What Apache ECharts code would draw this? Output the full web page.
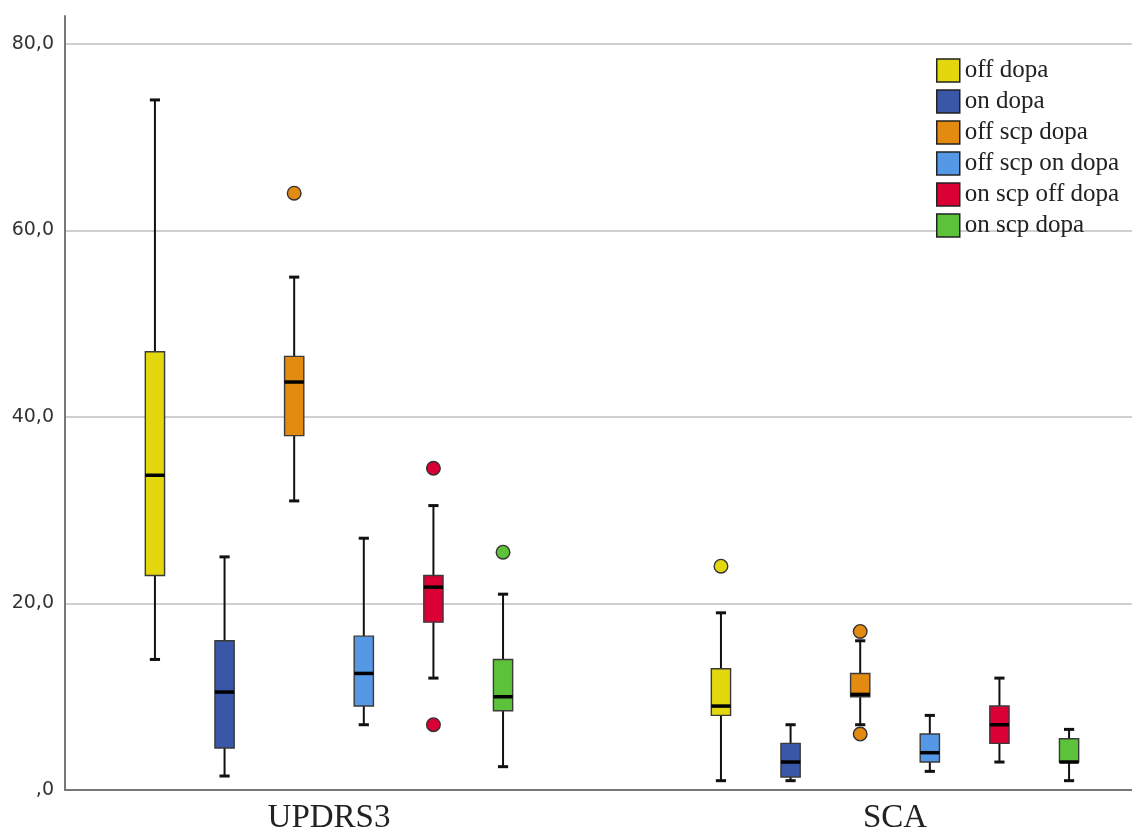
<!DOCTYPE html>
<html>
<head>
<meta charset="utf-8">
<script src="https://cdn.jsdelivr.net/npm/echarts@6/dist/echarts.min.js"></script>
<style>
html,body{margin:0;padding:0;background:#fff;}
#chart{width:1132px;height:834px;}
</style>
</head>
<body>
<div id="chart"></div>
<script>
// ---- Data ----
const categories = ['UPDRS3', 'SCA'];
const seriesNames = ['off dopa', 'on dopa', 'off scp dopa', 'off scp on dopa', 'on scp off dopa', 'on scp dopa'];
const seriesColors = ['#E3D80E', '#3A57A7', '#E38A10', '#5599E6', '#DA0035', '#5CC23A'];

// [min, Q1, median, Q3, max] for UPDRS3, SCA
const offDopa      = [[14, 23, 33.75, 47, 74],     [1, 8, 9, 13, 19]];
const onDopa       = [[1.5, 4.5, 10.5, 16, 25],    [1, 1.4, 3, 5, 7]];
const offScpDopa   = [[31, 38, 43.75, 46.5, 55],   [7, 10, 10.25, 12.5, 16]];
const offScpOnDopa = [[7, 9, 12.5, 16.5, 27],      [2, 3, 4, 6, 8]];
const onScpOffDopa = [[12, 18, 21.75, 23, 30.5],   [3, 5, 7, 9, 12]];
const onScpDopa    = [[2.5, 8.5, 10, 14, 21],      [1, 3, 3, 5.5, 6.5]];

// outliers: [category index, value]
const offDopaOut      = [[1, 24]];
const onDopaOut       = [];
const offScpDopaOut   = [[0, 64], [1, 17], [1, 6]];
const offScpOnDopaOut = [];
const onScpOffDopaOut = [[0, 34.5], [0, 7]];
const onScpDopaOut    = [[0, 25.5]];

const yTicks = [0, 20, 40, 60, 80];

const boxStats = [offDopa, onDopa, offScpDopa, offScpOnDopa, onScpOffDopa, onScpDopa];
const outliers = [offDopaOut, onDopaOut, offScpDopaOut, offScpOnDopaOut, onScpOffDopaOut, onScpDopaOut];

// ---- Layout helpers ----
const groupStep = 0.123;   // offset between boxes inside a group (axis units)
const boxW = 0.034;        // box width (axis units)
const capW = 0.018;        // whisker cap width (axis units)

function offsetFor(k) { return (k - 2.5) * groupStep; }

function makeBoxRender(k) {
  return function (params, api) {
    const xc = api.value(0) + offsetFor(k);
    const pMin = api.coord([xc, api.value(1)]);
    const pQ1 = api.coord([xc, api.value(2)]);
    const pMed = api.coord([xc, api.value(3)]);
    const pQ3 = api.coord([xc, api.value(4)]);
    const pMax = api.coord([xc, api.value(5)]);
    const hw = api.size([boxW, 0])[0] / 2;
    const cw = api.size([capW, 0])[0] / 2;
    const x = pMed[0];
    const lineStyle = { stroke: '#111', lineWidth: 2 };
    return {
      type: 'group',
      children: [
        { type: 'line', shape: { x1: x, y1: pQ3[1], x2: x, y2: pMax[1] }, style: lineStyle },
        { type: 'line', shape: { x1: x, y1: pQ1[1], x2: x, y2: pMin[1] }, style: lineStyle },
        { type: 'line', shape: { x1: x - cw, y1: pMax[1], x2: x + cw, y2: pMax[1] }, style: { stroke: '#111', lineWidth: 3 } },
        { type: 'line', shape: { x1: x - cw, y1: pMin[1], x2: x + cw, y2: pMin[1] }, style: { stroke: '#111', lineWidth: 3 } },
        { type: 'rect', shape: { x: x - hw, y: pQ3[1], width: hw * 2, height: pQ1[1] - pQ3[1] },
          style: { fill: seriesColors[k], stroke: '#3a3a3a', lineWidth: 1.4 } },
        { type: 'line', shape: { x1: x - hw, y1: pMed[1], x2: x + hw, y2: pMed[1] }, style: { stroke: '#000', lineWidth: 3.5 } }
      ]
    };
  };
}

function makeOutlierRender(k) {
  return function (params, api) {
    const p = api.coord([api.value(0) + offsetFor(k), api.value(1)]);
    return {
      type: 'circle',
      shape: { cx: p[0], cy: p[1], r: 6.8 },
      style: { fill: seriesColors[k], stroke: '#333', lineWidth: 1.4 }
    };
  };
}

const series = [];
seriesNames.forEach(function (name, k) {
  series.push({
    name: name,
    type: 'custom',
    clip: false,
    itemStyle: { color: seriesColors[k], borderColor: '#222', borderWidth: 1.5 },
    encode: { x: 0, y: [1, 2, 3, 4, 5] },
    renderItem: makeBoxRender(k),
    data: boxStats[k].map(function (s, ci) { return [ci].concat(s); }),
    z: 3
  });
});
seriesNames.forEach(function (name, k) {
  series.push({
    name: name,
    type: 'custom',
    clip: false,
    itemStyle: { color: seriesColors[k] },
    encode: { x: 0, y: 1 },
    renderItem: makeOutlierRender(k),
    data: outliers[k],
    z: 4
  });
});

const chart = echarts.init(document.getElementById('chart'), null, { renderer: 'canvas' });
chart.setOption({
  animation: false,
  backgroundColor: '#fff',
  grid: { left: 65, right: 0, top: 16, bottom: 44, containLabel: false, outerBoundsMode: 'none' },
  legend: {
    data: seriesNames,
    orient: 'vertical',
    left: 931,
    top: 53,
    icon: 'rect',
    itemWidth: 23,
    itemHeight: 23,
    itemGap: 6,
    itemStyle: { borderColor: '#222', borderWidth: 1.5 },
    textStyle: { fontFamily: 'Liberation Serif', fontSize: 25, color: '#222' }
  },
  xAxis: {
    type: 'value',
    min: -0.4664,
    max: 1.4187,
    splitLine: { show: false },
    axisTick: { show: false },
    axisLine: { show: true, onZero: false, lineStyle: { color: '#777', width: 2 } },
    axisLabel: {
      customValues: [0, 1],
      formatter: function (v) { return categories[Math.round(v)]; },
      fontFamily: 'Liberation Serif',
      fontSize: 33,
      color: '#222',
      margin: 12
    }
  },
  yAxis: {
    type: 'value',
    min: 0,
    max: 83,
    interval: 20,
    axisLine: { show: true, onZero: false, lineStyle: { color: '#777', width: 2 } },
    axisTick: { show: false },
    splitLine: { show: true, showMaxLine: false, lineStyle: { color: '#cfcfcf', width: 2 } },
    axisLabel: {
      showMaxLabel: false,
      margin: 11,
      fontFamily: 'DejaVu Sans',
      fontSize: 19,
      color: '#333',
      formatter: function (v) {
        if (yTicks.indexOf(v) < 0) return '';
        return v === 0 ? ',0' : v.toFixed(1).replace('.', ',');
      }
    }
  },
  series: series
});
</script>
</body>
</html>
